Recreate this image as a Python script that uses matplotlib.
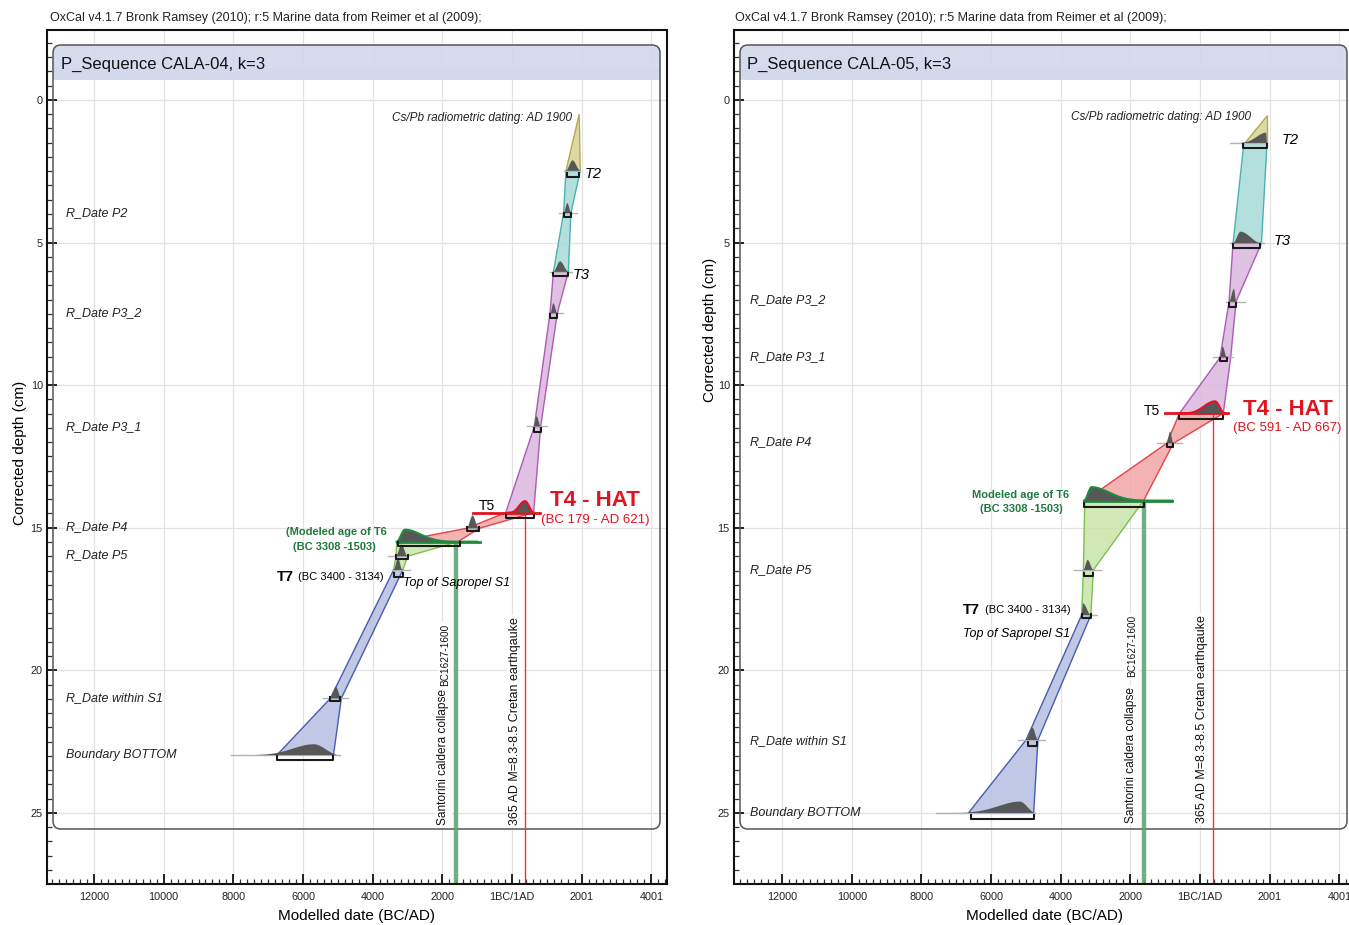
import numpy as np
import matplotlib
matplotlib.use('Agg')
import matplotlib.pyplot as plt
from matplotlib.patches import Polygon, FancyBboxPatch, Rectangle
from matplotlib.transforms import IdentityTransform
from matplotlib.ticker import MultipleLocator

plt.rcParams['font.family'] = ['Liberation Sans', 'DejaVu Sans']

W, H = 1349, 925

# ---------------- shared axis data ----------------
x_ticks = [-12000, -10000, -8000, -6000, -4000, -2000, 0, 2000, 4000]
x_tick_labels = ['12000', '10000', '8000', '6000', '4000', '2000', '1BC/1AD', '2001', '4001']
y_ticks = [0, 5, 10, 15, 20, 25]
title_text = "OxCal v4.1.7 Bronk Ramsey (2010); r:5 Marine data from Reimer et al (2009);"
event_santorini = -1613
event_crete = 365

# ---------------- CALA-04 ----------------
a_name = "P_Sequence CALA-04, k=3"
a_node_depth = [0.50, 2.48, 3.97, 6.02, 7.48, 11.45, 14.47, 15.02, 15.49, 16.00, 16.48, 20.98, 22.97]
a_node_lo = [1930, 1550, 1480, 1190, 1090, 640, -179, -1300, -3308, -3330, -3400, -5214, -6750]
a_node_hi = [1930, 1960, 1690, 1620, 1300, 824, 621, -940, -1550, -2995, -3134, -4900, -5125]
a_segment = ['yellow', 'teal', 'teal', 'purple', 'purple', 'purple', 'red', 'red', 'green', 'green', 'blue', 'blue']

a_dist_depth = [2.48, 3.97, 6.02, 7.48, 11.45, 14.47, 15.02, 15.49, 16.00, 16.48, 20.98, 22.97]
a_dist_start = [1550, 1480, 1190, 1100, 620, -80, -1300, -3310, -3330, -3400, -5214, -8080]
a_dist_mode = [1740, 1590, 1380, 1190, 708, 373, -1130, -3070, -3170, -3270, -5060, -5690]
a_dist_end = [1960, 1700, 1620, 1300, 820, 620, -960, -1000, -3000, -3150, -4900, -4970]
a_dist_height = [0.36, 0.35, 0.36, 0.35, 0.36, 0.40, 0.45, 0.42, 0.41, 0.41, 0.41, 0.38]
a_line_lo = [1490, 1350, 1091, 1062, 430, -1110, -1300, -3310, -3560, -3454, -5437, -8080]
a_line_hi = [1960, 1866, 1714, 1456, 1005, 804, -940, -920, -3023, -2928, -4714, -4950]
a_brk_depth = [2.69, 4.10, 6.19, 7.65, 11.63, 14.67, 15.11, 15.63, 16.10, 16.71, 21.07, 23.14]
a_brk_lo = [1570, 1493, 1190, 1100, 640, -179, -1300, -3280, -3330, -3400, -5214, -6750]
a_brk_hi = [1930, 1686, 1620, 1300, 824, 621, -940, -1493, -2995, -3134, -4927, -5125]
a_kind = ['g', 'g', 'g', 'g', 'g', 'red', 'g', 'green', 'g', 'g', 'g', 'g']
a_shape = [(1, 1), (1, 1), (1, 1), (1, 1), (1, 1), (1.5, 1), (1, 1), (1, 4), (1, 1), (1, 1), (1, 1), (3, 1)]

a_rlabels = ['R_Date P2', 'R_Date P3_2', 'R_Date P3_1', 'R_Date P4', 'R_Date P5', 'R_Date within S1', 'Boundary BOTTOM']
a_rlabel_depth = [3.97, 7.47, 11.47, 14.97, 15.95, 20.97, 22.97]
a_event_top = [15.49, 14.47]

# ---------------- CALA-05 ----------------
b_name = "P_Sequence CALA-05, k=3"
b_node_depth = [0.53, 1.51, 5.03, 7.07, 9.03, 10.99, 12.04, 14.05, 16.48, 18.06, 22.44, 24.99]
b_node_lo = [1924, 1258, 947, 833, 574, -591, -957, -3310, -3350, -3400, -4996, -6644]
b_node_hi = [1924, 1924, 1763, 1034, 880, 667, -766, -1620, -3063, -3134, -4654, -4776]
b_segment = ['yellow', 'teal', 'purple', 'purple', 'purple', 'red', 'red', 'green', 'green', 'blue', 'blue']

b_dist_depth = [1.51, 5.03, 7.07, 9.03, 10.99, 12.04, 14.05, 16.48, 18.06, 22.44, 24.99]
b_dist_start = [920, 947, 833, 574, -560, -957, -3330, -3350, -3400, -4996, -7585]
b_dist_mode = [1895, 1160, 976, 651, 431, -861, -3110, -3225, -3360, -4811, -5173]
b_dist_end = [1924, 1763, 1034, 766, 700, -766, -800, -3063, -3134, -4654, -4730]
b_dist_height = [0.36, 0.41, 0.45, 0.38, 0.42, 0.41, 0.47, 0.35, 0.41, 0.43, 0.39]
b_line_lo = [860, 858, 735, 373, -1005, -1244, -3330, -3617, -3445, -5233, -7585]
b_line_hi = [1924, 1823, 1280, 957, 813, -526, -800, -2851, -2967, -4450, -4730]
b_brk_depth = [1.69, 5.20, 7.25, 9.17, 11.20, 12.18, 14.26, 16.70, 18.17, 22.65, 25.20]
b_brk_lo = [1220, 947, 833, 574, -591, -957, -3320, -3330, -3400, -4938, -6586]
b_brk_hi = [1924, 1723, 1034, 766, 667, -766, -1610, -3063, -3134, -4680, -4776]
b_kind = ['g', 'g', 'g', 'g', 'red', 'g', 'green', 'g', 'g', 'g', 'g']
b_shape = [(2.5, 1), (1, 1), (1, 1), (1, 1), (2, 1), (1, 1), (1, 4), (1, 1), (1, 1), (1, 1), (3, 1)]

b_rlabels = ['R_Date P3_2', 'R_Date P3_1', 'R_Date P4', 'R_Date P5', 'R_Date within S1', 'Boundary BOTTOM']
b_rlabel_depth = [7.01, 9.01, 11.99, 16.48, 22.48, 25.0]
b_event_top = [14.05, 10.99]

# ---------------- styles ----------------
SEG_STYLE = {
    'yellow': ('#d6d393', '#a8a13a'),
    'teal': ('#a6dbd8', '#33a8a4'),
    'purple': ('#dbb6df', '#a046aa'),
    'red': ('#f3a6a6', '#e12a2f'),
    'green': ('#c8e4a8', '#6db63c'),
    'blue': ('#b5bfe1', '#2f45a6'),
}
HUMP = '#575757'
RED = '#e2131f'
GREEN_TXT = '#1f7a3d'


def hump_outline(start, mode, end, height, depth, rise, fall):
    xl = np.linspace(start, mode, 40)
    t = (xl - start) / max(mode - start, 1e-9)
    yl = (t * t * (3 - 2 * t)) ** rise
    xr = np.linspace(mode, end, 40)
    t = (end - xr) / max(end - mode, 1e-9)
    yr = (t * t * (3 - 2 * t)) ** fall
    xs = np.concatenate([xl, xr])
    ys = depth - height * np.concatenate([yl, yr])
    return xs, ys


def setup_axes(ax, xlim):
    ax.set_xlim(*xlim)
    ax.set_ylim(27.49, -2.45)
    ax.set_xticks(x_ticks)
    ax.set_xticklabels(x_tick_labels)
    ax.set_yticks(y_ticks)
    ax.xaxis.set_minor_locator(MultipleLocator(200))
    ax.yaxis.set_minor_locator(MultipleLocator(0.5))
    ax.tick_params(which='major', direction='in', length=7, width=1.4, labelsize=7.8, colors='#222')
    ax.tick_params(axis='x', which='major', pad=6)
    ax.tick_params(axis='y', which='major', pad=3)
    ax.tick_params(which='minor', direction='in', length=3.5, width=0.9, colors='#333')
    for s in ax.spines.values():
        s.set_linewidth(1.5)
        s.set_color('#111')
    ax.grid(True, which='major', color='#e3e3e3', lw=0.9)
    ax.set_axisbelow(True)


def draw_frame(ax, x0, x1):
    # pixel coordinates (display, origin bottom-left)
    top, bot, band_bot = H - 45, H - 829, H - 80
    band = FancyBboxPatch((x0, band_bot), x1 - x0, top - band_bot,
                          boxstyle='round,pad=0,rounding_size=8', transform=IdentityTransform(),
                          facecolor='#d3d8ed', edgecolor='none', alpha=0.92, zorder=1)
    ax.add_patch(band)
    ax.add_patch(Rectangle((x0, band_bot), x1 - x0, 12, transform=IdentityTransform(),
                           facecolor='#d3d8ed', edgecolor='none', alpha=0.92, zorder=1))
    box = FancyBboxPatch((x0, bot), x1 - x0, top - bot,
                         boxstyle='round,pad=0,rounding_size=8', transform=IdentityTransform(),
                         facecolor='none', edgecolor='#555', lw=1.1, zorder=1.5)
    ax.add_patch(box)


def draw_panel(ax, nd, nlo, nhi, seg, dd, ds, dm, de, dh, llo, lhi, bd, blo, bhi, kinds, shapes,
               event_top):
    # envelope polygons
    for i, c in enumerate(seg):
        fc, ec = SEG_STYLE[c]
        pts = [(nlo[i], nd[i]), (nhi[i], nd[i]), (nhi[i + 1], nd[i + 1]), (nlo[i + 1], nd[i + 1])]
        ax.add_patch(Polygon(pts, closed=True, facecolor=fc, edgecolor=ec, lw=1.0, alpha=0.85, zorder=2))
    # event lines
    ax.plot([event_santorini, event_santorini], [event_top[0], 27.49], color='#5fa874', lw=3.2,
            alpha=0.9, zorder=2.5, solid_capstyle='butt')
    ax.plot([event_crete, event_crete], [event_top[1], 27.49], color='#e8353a', lw=1.0, zorder=2.5)
    # distributions
    for i in range(len(dd)):
        kind = kinds[i]
        lc = {'g': '#b3b3b3', 'red': RED, 'green': '#1f8a3d'}[kind]
        llw = {'g': 1.0, 'red': 2.0, 'green': 2.0}[kind]
        ax.plot([llo[i], lhi[i]], [dd[i], dd[i]], color=lc, lw=llw, zorder=3)
        xs, ys = hump_outline(ds[i], dm[i], de[i], dh[i], dd[i], *shapes[i])
        ax.fill(xs, ys, color=HUMP, lw=0, zorder=3.2)
        if kind != 'g':
            ax.plot(xs, ys, color=lc, lw=1.6, zorder=3.3)
        # 95% range bracket
        ax.plot([blo[i], blo[i], bhi[i], bhi[i]], [bd[i] - 0.13, bd[i], bd[i], bd[i] - 0.13],
                color='#1a1a1a', lw=1.5, zorder=4)


def vtext(ax, x, y, s, size):
    ax.text(x, y, s, rotation=90, rotation_mode='anchor', ha='left', va='center', fontsize=size,
            color='#111', zorder=3.8, bbox=dict(facecolor='white', edgecolor='none', pad=1.5))


fig = plt.figure(figsize=(W / 100, H / 100), dpi=100)
axA = fig.add_axes([47 / W, 1 - 884 / H, 620 / W, 854 / H])
axB = fig.add_axes([734 / W, 1 - 884 / H, 620 / W, 854 / H])

setup_axes(axA, (-13350, 4450))
setup_axes(axB, (-13380, 4420))
draw_frame(axA, 53, 660)
draw_frame(axB, 740, 1347)

draw_panel(axA, a_node_depth, a_node_lo, a_node_hi, a_segment, a_dist_depth, a_dist_start, a_dist_mode,
           a_dist_end, a_dist_height, a_line_lo, a_line_hi, a_brk_depth, a_brk_lo, a_brk_hi, a_kind,
           a_shape, a_event_top)
draw_panel(axB, b_node_depth, b_node_lo, b_node_hi, b_segment, b_dist_depth, b_dist_start, b_dist_mode,
           b_dist_end, b_dist_height, b_line_lo, b_line_hi, b_brk_depth, b_brk_lo, b_brk_hi, b_kind,
           b_shape, b_event_top)

# ---------- panel A text ----------
for s, d in zip(a_rlabels, a_rlabel_depth):
    axA.text(-12805, d, s, style='italic', fontsize=9, va='center', ha='left', color='#222', zorder=5)
axA.text(1723, 0.63, 'Cs/Pb radiometric dating: AD 1900', style='italic', fontsize=8.5, ha='right',
         va='center', color='#222', zorder=5)
axA.text(2096, 2.6, 'T2', style='italic', fontsize=10.5, ha='left', va='center', zorder=5)
axA.text(1750, 6.14, 'T3', style='italic', fontsize=10.5, ha='left', va='center', zorder=5)
axA.text(-718, 14.24, 'T5', fontsize=10, ha='center', va='center', zorder=5)
axA.text(1091, 14.06, 'T4 - HAT', fontsize=16, fontweight='bold', color=RED, ha='left', va='center', zorder=5)
axA.text(833, 14.73, '(BC 179 - AD 621)', fontsize=9.5, color=RED, ha='left', va='center', zorder=5)
axA.text(-5033, 15.15, '(Modeled age of T6', fontsize=8, fontweight='bold', color=GREEN_TXT, ha='center',
         va='center', zorder=5)
axA.text(-5110, 15.66, '(BC 3308 -1503)', fontsize=8, fontweight='bold', color=GREEN_TXT, ha='center',
         va='center', zorder=5)
axA.text(-6747, 16.71, 'T7', fontsize=10.5, fontweight='bold', ha='left', va='center', zorder=5)
axA.text(-6144, 16.71, '(BC 3400 - 3134)', fontsize=8, ha='left', va='center', zorder=5)
axA.text(-3129, 16.92, 'Top of Sapropel S1', style='italic', fontsize=9, ha='left', va='center', zorder=5)
vtext(axA, -1967, 25.42, 'Santorini caldera collapse', 8.6)
vtext(axA, -1910, 20.55, 'BC1627-1600', 7.2)
vtext(axA, 86, 25.42, '365 AD M=8.3-8.5 Cretan earthqauke', 9)

# ---------- panel B text ----------
for s, d in zip(b_rlabels, b_rlabel_depth):
    axB.text(-12920, d, s, style='italic', fontsize=9, va='center', ha='left', color='#222', zorder=5)
axB.text(1464, 0.6, 'Cs/Pb radiometric dating: AD 1900', style='italic', fontsize=8.5, ha='right',
         va='center', color='#222', zorder=5)
axB.text(2354, 1.4, 'T2', style='italic', fontsize=10.5, ha='left', va='center', zorder=5)
axB.text(2125, 4.93, 'T3', style='italic', fontsize=10.5, ha='left', va='center', zorder=5)
axB.text(-1378, 10.9, 'T5', fontsize=10, ha='center', va='center', zorder=5)
axB.text(1234, 10.85, 'T4 - HAT', fontsize=16, fontweight='bold', color=RED, ha='left', va='center', zorder=5)
axB.text(947, 11.52, '(BC 591 - AD 667)', fontsize=9.5, color=RED, ha='left', va='center', zorder=5)
axB.text(-5148, 13.85, 'Modeled age of T6', fontsize=8, fontweight='bold', color=GREEN_TXT, ha='center',
         va='center', zorder=5)
axB.text(-5120, 14.35, '(BC 3308 -1503)', fontsize=8, fontweight='bold', color=GREEN_TXT, ha='center',
         va='center', zorder=5)
axB.text(-6796, 17.88, 'T7', fontsize=10.5, fontweight='bold', ha='left', va='center', zorder=5)
axB.text(-6173, 17.88, '(BC 3400 - 3134)', fontsize=8, ha='left', va='center', zorder=5)
axB.text(-3732, 18.72, 'Top of Sapropel S1', style='italic', fontsize=9, ha='right', va='center', zorder=5)
vtext(axB, -1981, 25.35, 'Santorini caldera collapse', 8.6)
vtext(axB, -1944, 20.25, 'BC1627-1600', 7.2)
vtext(axB, 49, 25.35, '365 AD M=8.3-8.5 Cretan earthqauke', 9)

# ---------- figure-level text ----------
fig.text(50 / W, 1 - 18 / H, title_text, fontsize=9, va='center', ha='left', color='#222')
fig.text(735 / W, 1 - 18 / H, title_text, fontsize=9, va='center', ha='left', color='#222')
fig.text(61 / W, 1 - 64 / H, a_name, fontsize=12, va='center', ha='left', color='#111')
fig.text(747 / W, 1 - 64 / H, b_name, fontsize=12, va='center', ha='left', color='#111')
fig.text(357 / W, 1 - 916 / H, 'Modelled date (BC/AD)', fontsize=11, ha='center', va='center')
fig.text(1045 / W, 1 - 916 / H, 'Modelled date (BC/AD)', fontsize=11, ha='center', va='center')
fig.text(20 / W, 1 - 453 / H, 'Corrected depth (cm)', fontsize=11, rotation=90, ha='center', va='center')
fig.text(710 / W, 1 - 330 / H, 'Corrected depth (cm)', fontsize=11, rotation=90, ha='center', va='center')

fig.savefig('out.png', dpi=100)
